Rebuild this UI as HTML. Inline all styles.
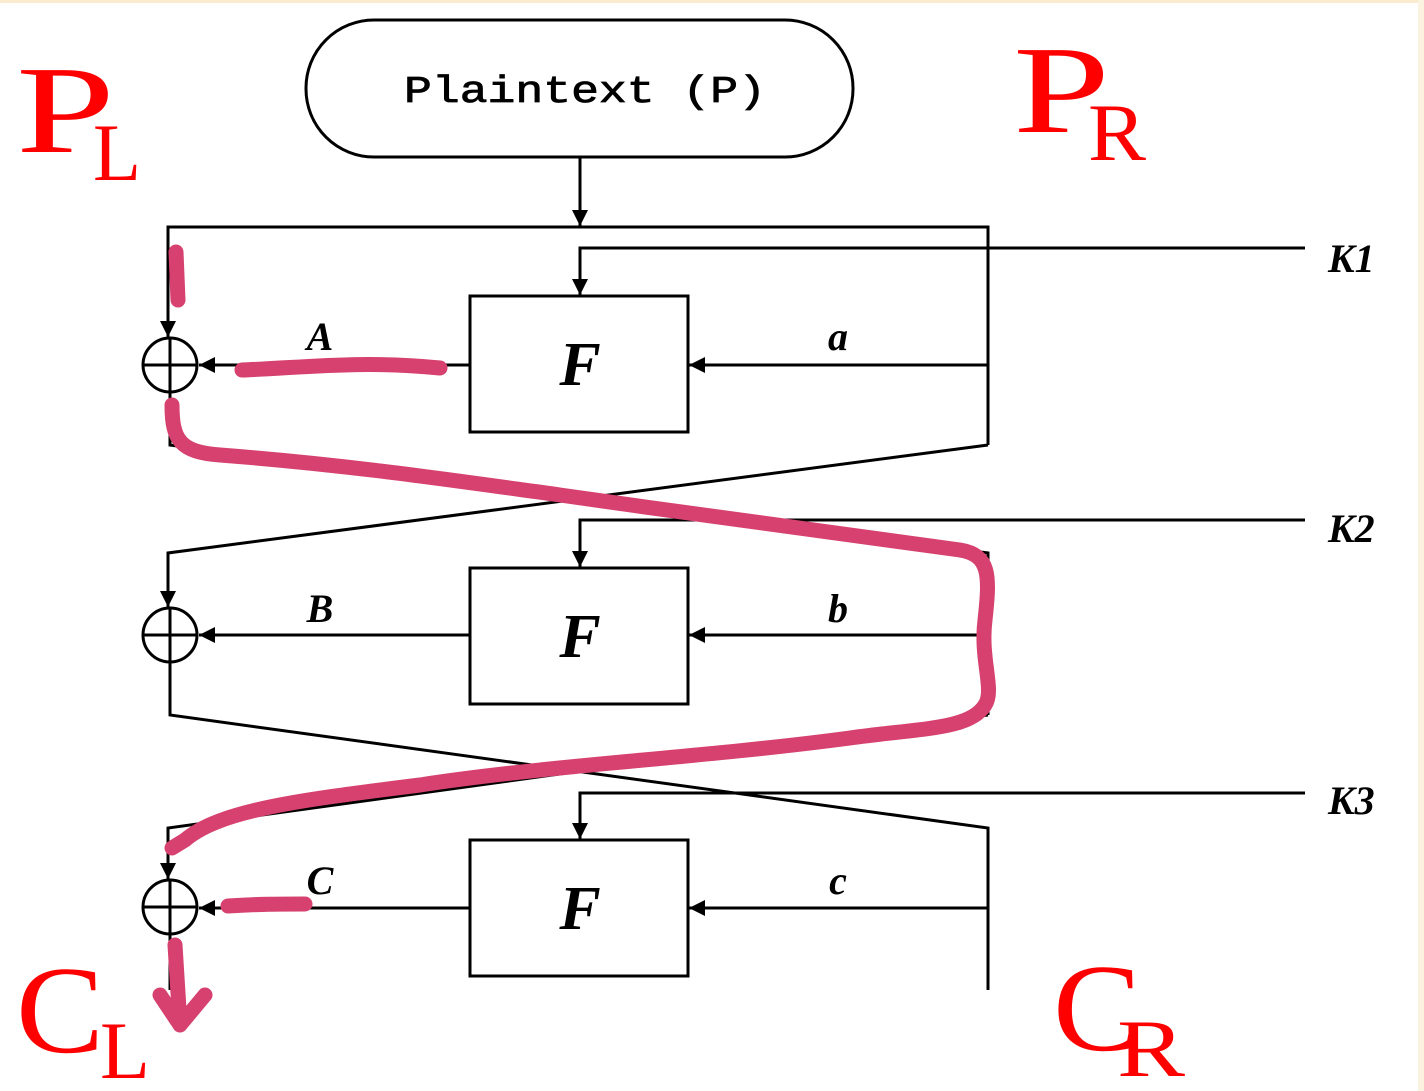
<!DOCTYPE html>
<html><head><style>
html,body{margin:0;padding:0;background:#fff;}
svg{display:block;}
</style></head><body>
<svg width="1424" height="1091" viewBox="0 0 1424 1091" xmlns="http://www.w3.org/2000/svg">
<defs>
<marker id="ah2" viewBox="0 0 10 10" refX="10" refY="5" markerWidth="20" markerHeight="16" markerUnits="userSpaceOnUse" orient="auto"><path d="M0,0 L10,5 L0,10 z" fill="#000"/></marker>
</defs>
<rect x="0" y="0" width="1424" height="3" fill="#fbecd0"/>
<rect x="1418" y="0" width="6" height="1091" fill="#fbf2e0"/>
<g fill="none" stroke="#000" stroke-width="3">
<rect x="306" y="20" width="547" height="137" rx="68"/>
<line x1="580" y1="157" x2="580" y2="226" marker-end="url(#ah2)"/>
<polyline points="168,337 168,227 988,227 988,445"/>
<polyline points="1305,248 580,248 580,295" marker-end="url(#ah2)"/>
<rect x="470" y="296" width="218" height="136"/>
<line x1="988" y1="365" x2="689" y2="365" marker-end="url(#ah2)"/>
<line x1="470" y1="365" x2="199" y2="365" marker-end="url(#ah2)"/>
<circle cx="170" cy="365" r="27"/>
<line x1="143" y1="365" x2="197" y2="365"/><line x1="170" y1="338" x2="170" y2="392"/>
<polyline points="170,392 170,445 988,553 988,715"/>
<polyline points="988,445 168,553 168,607"/>
<polyline points="1305,520 580,520 580,567" marker-end="url(#ah2)"/>
<rect x="470" y="568" width="218" height="136"/>
<line x1="988" y1="635" x2="689" y2="635" marker-end="url(#ah2)"/>
<line x1="470" y1="635" x2="199" y2="635" marker-end="url(#ah2)"/>
<circle cx="170" cy="635" r="27"/>
<line x1="143" y1="635" x2="197" y2="635"/><line x1="170" y1="608" x2="170" y2="662"/>
<line x1="168" y1="591" x2="168" y2="607" marker-end="url(#ah2)"/>
<line x1="168" y1="321" x2="168" y2="337" marker-end="url(#ah2)"/>
<polyline points="170,662 170,715 988,828 988,990"/>
<polyline points="988,715 168,828 168,879"/>
<line x1="168" y1="862" x2="168" y2="879" marker-end="url(#ah2)"/>
<polyline points="1305,793 580,793 580,839" marker-end="url(#ah2)"/>
<rect x="470" y="840" width="218" height="136"/>
<line x1="988" y1="908" x2="689" y2="908" marker-end="url(#ah2)"/>
<line x1="470" y1="908" x2="199" y2="908" marker-end="url(#ah2)"/>
<circle cx="170" cy="907" r="27"/>
<line x1="143" y1="907" x2="197" y2="907"/><line x1="170" y1="880" x2="170" y2="934"/>
<line x1="170" y1="934" x2="170" y2="990"/>
</g>
<g font-family="Liberation Serif, serif" font-style="italic" font-weight="bold" fill="#000">
<text x="580" y="385" font-size="62" text-anchor="middle">F</text>
<text x="580" y="657" font-size="62" text-anchor="middle">F</text>
<text x="580" y="929" font-size="62" text-anchor="middle">F</text>
<text x="320" y="350" font-size="40" text-anchor="middle">A</text>
<text x="838" y="350" font-size="40" text-anchor="middle">a</text>
<text x="320" y="622" font-size="40" text-anchor="middle">B</text>
<text x="838" y="622" font-size="40" text-anchor="middle">b</text>
<text x="320" y="894" font-size="40" text-anchor="middle">C</text>
<text x="838" y="894" font-size="40" text-anchor="middle">c</text>
<text x="1328" y="272" font-size="40">K1</text>
<text x="1328" y="542" font-size="40">K2</text>
<text x="1328" y="814" font-size="40">K3</text>
</g>
<text x="404" y="102" font-family="Liberation Mono, monospace" font-size="38" textLength="362" lengthAdjust="spacingAndGlyphs" fill="#000" stroke="#000" stroke-width="0.8">Plaintext (P)</text>
<g font-family="Liberation Serif, serif" fill="#f00" lengthAdjust="spacingAndGlyphs">
<text x="16" y="152" font-size="125" textLength="99" lengthAdjust="spacingAndGlyphs">P</text>
<text x="93" y="180" font-size="82" textLength="48" lengthAdjust="spacingAndGlyphs">L</text>
<text x="1013" y="132" font-size="125" textLength="97" lengthAdjust="spacingAndGlyphs">P</text>
<text x="1088" y="160" font-size="82" textLength="58" lengthAdjust="spacingAndGlyphs">R</text>
<text x="16" y="1052" font-size="125" textLength="88" lengthAdjust="spacingAndGlyphs">C</text>
<text x="100" y="1078" font-size="82" textLength="50" lengthAdjust="spacingAndGlyphs">L</text>
<text x="1053" y="1050" font-size="125" textLength="88" lengthAdjust="spacingAndGlyphs">C</text>
<text x="1117" y="1076" font-size="82" textLength="68" lengthAdjust="spacingAndGlyphs">R</text>
</g>
<g fill="none" stroke="#d6416f" stroke-width="15" stroke-linecap="round" stroke-linejoin="round">
<path d="M176,252 L178,300"/>
<path d="M242,370 C300,368 360,360 440,368"/>
<path d="M172,405 C172,440 180,452 220,455 C350,465 450,480 560,495 C700,515 850,535 960,550 C990,555 990,575 985,620 C980,660 995,690 985,705 C970,730 920,728 850,738 C700,758 550,765 420,785 C300,800 220,810 185,840 L172,848"/>
<path d="M228,906 C260,904 280,904 305,904"/>
<path d="M175,945 L180,1025 M160,995 L180,1025 L205,995"/>
</g>
</svg>
</body></html>
